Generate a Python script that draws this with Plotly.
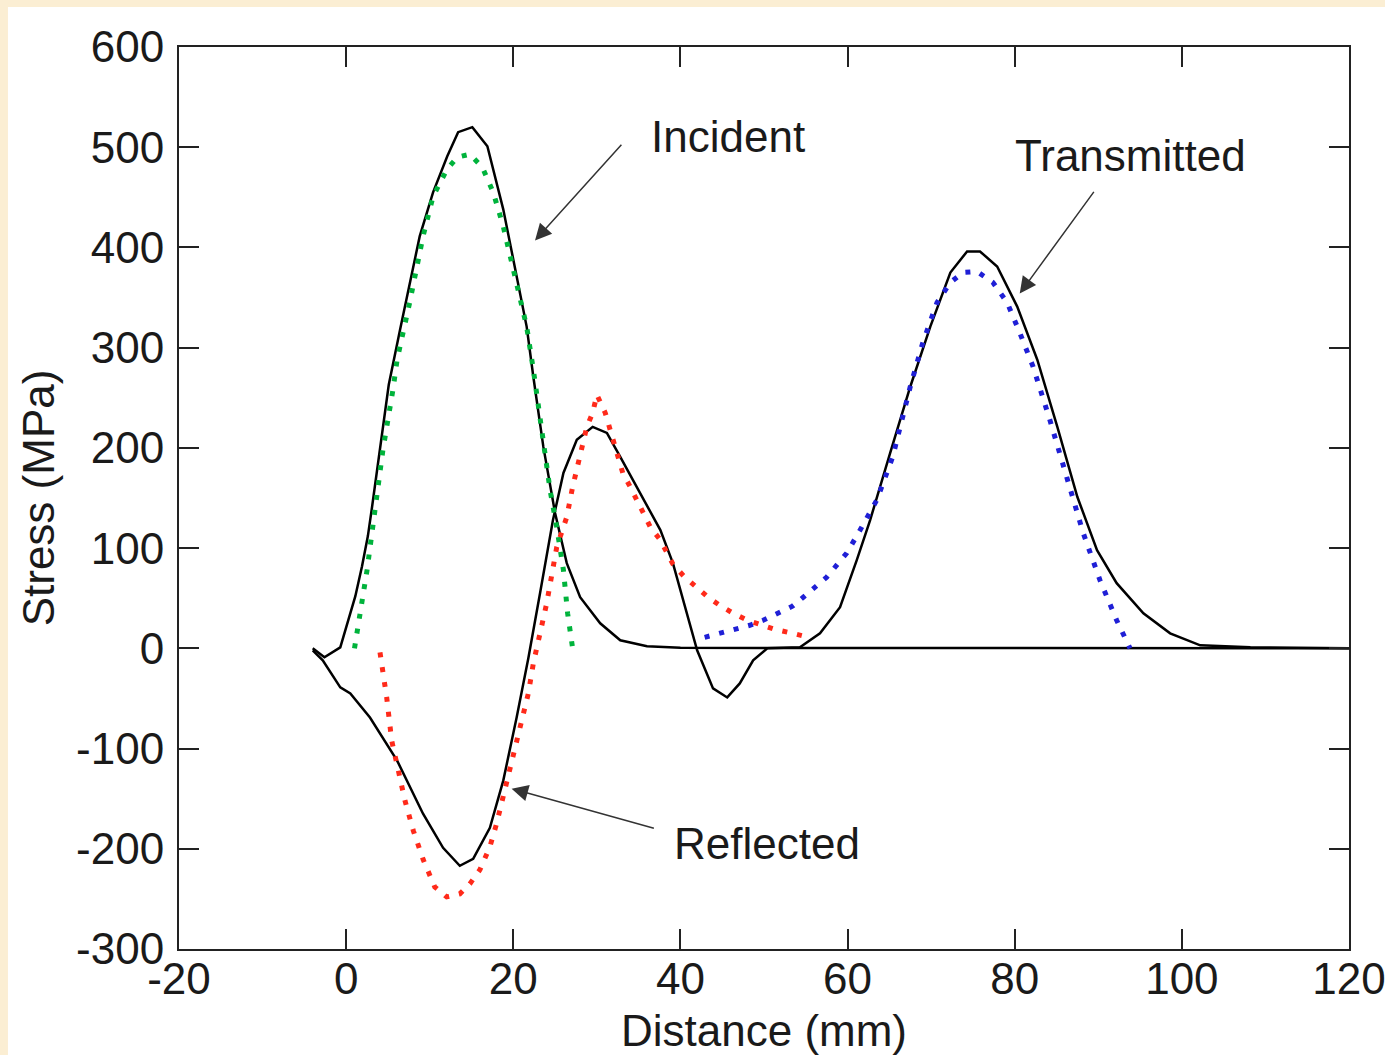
import plotly.graph_objects as go

# ---------------- data ----------------
incident_x = [-4, -2.6, -0.7, 0.4, 1.1, 1.9, 2.6, 3.1, 4.05, 5.1, 6.45, 7.6, 8.8, 10.4, 12.1, 13.4,
              15.1, 16.9, 17.6, 18.8, 20.0, 21.6, 22.4, 23.6, 25.0, 26.4, 28.0, 30.4, 32.8, 36.0, 40.0, 120]
incident_y = [0, -9, 1, 33, 52, 82, 112, 141, 201, 263, 318, 365, 411, 455, 491, 515,
              520, 501, 478, 438, 388, 321, 271, 201, 135, 85, 51, 25, 8, 2, 0.5, 0]

reflected_x = [-4, -2.8, -0.7, 0.5, 2.85, 6.1, 9.2, 11.6, 13.6, 15.2, 17.2, 18.8, 20.4, 21.8, 23.2,
               24.75, 26.0, 27.6, 29.5, 31.2, 32.8, 35.2, 37.6, 39.1, 40.8, 42.0, 43.9, 45.6, 47.1,
               48.7, 50.4, 54.3, 56.7, 59.1, 61.1, 62.7, 65.1, 67.5, 69.9, 72.3, 74.3, 75.85, 77.9,
               80.3, 82.7, 85.1, 87.5, 89.85, 92.2, 95.4, 98.6, 102.2, 108.2, 120]
reflected_y = [-2, -12, -39, -45, -69, -112, -165, -199, -217, -210, -179, -132, -69, -10, 55,
               128, 175, 208, 221, 215, 191, 155, 118, 85, 35, -2, -40, -49, -35,
               -12, 0, 1, 15, 41, 88, 128, 195, 261, 321, 375, 396, 396, 381,
               341, 288, 221, 151, 98, 65, 35, 15, 3, 1, 0]

incident_fit_x = [1.0, 1.66, 2.5, 3.45, 4.4, 5.6, 6.1, 7.6, 9.2, 10.4, 12.07, 13.3, 14.8, 16.3,
                  17.6, 18.8, 20.0, 21.6, 22.4, 23.6, 24.4, 25.2, 26.0, 26.5, 27.1]
incident_fit_y = [0, 33, 78, 138, 198, 258, 288, 345, 411, 451, 478, 490, 493, 480,
                  455, 421, 378, 321, 278, 201, 158, 121, 78, 35, 0]

reflected_fit_x = [4.05, 4.85, 5.45, 6.25, 7.04, 8.04, 9.23, 10.6, 12.03, 13.6, 14.8, 16.0, 17.2,
                   18.0, 18.8, 19.6, 20.4, 21.0, 21.8, 22.4, 23.2, 24.0, 25.2, 26.4, 27.1, 28.0,
                   28.8, 29.5, 30.0, 31.0, 31.6, 32.4, 33.1, 34.0, 34.8, 35.5, 36.4, 37.6, 39.1,
                   40.4, 42.0, 43.3, 44.7, 46.3, 48.0, 49.8, 51.3, 53.4, 55.3]
reflected_fit_y = [-4, -49, -92, -123, -152, -182, -211, -238, -248, -245, -235, -221, -198,
                   -175, -148, -122, -92, -75, -45, -15, 15, 45, 101, 131, 161, 191,
                   221, 235, 253, 235, 218, 191, 175, 161, 148, 135, 121, 108, 84,
                   72, 61, 51, 43, 35, 28, 23, 19, 15, 11]

transmitted_fit_x = [42.9, 44.7, 46.8, 48.3, 49.9, 51.6, 53.4, 54.7, 56.1, 57.5, 58.7, 59.9, 61.5,
                     62.7, 63.5, 64.7, 65.4, 67.5, 69.0, 70.7, 72.3, 73.8, 75.5, 77.4, 79.1, 80.6,
                     82.2, 84.2, 86.3, 88.2, 90.2, 92.2, 93.8]
transmitted_fit_y = [11, 15, 19, 23, 28, 35, 42, 51, 61, 71, 83, 95, 118,
                     136, 148, 175, 191, 261, 305, 345, 365, 375, 376, 365, 345, 315,
                     281, 228, 168, 115, 68, 28, 0]

x_ticks = [-20, 0, 20, 40, 60, 80, 100, 120]
y_ticks = [-300, -200, -100, 0, 100, 200, 300, 400, 500, 600]

labels = ["Incident", "Transmitted", "Reflected"]
label_x = [45.7, 93.8, 50.4]
label_y = [511, 492, -195]
arrow_tail_x = [33.1, 89.6, 37.0]
arrow_tail_y = [504, 457, -180]
arrow_head_x = [22.6, 80.6, 19.8]
arrow_head_y = [407, 354, -140]

# ---------------- figure ----------------
FONT = "Liberation Sans, Arial, Helvetica, sans-serif"
DOT = "5px,10px"
TXT = "#1a1a1a"

fig = go.Figure()
fig.add_trace(go.Scatter(x=incident_x, y=incident_y, mode="lines",
                         line=dict(color="black", width=2.5), name="Incident (measured)"))
fig.add_trace(go.Scatter(x=reflected_x, y=reflected_y, mode="lines",
                         line=dict(color="black", width=2.5), name="Reflected/Transmitted (measured)"))
fig.add_trace(go.Scatter(x=incident_fit_x, y=incident_fit_y, mode="lines",
                         line=dict(color="#00b33c", width=5, dash=DOT), name="Incident"))
fig.add_trace(go.Scatter(x=reflected_fit_x, y=reflected_fit_y, mode="lines",
                         line=dict(color="#ff2a1a", width=5, dash=DOT), name="Reflected"))
fig.add_trace(go.Scatter(x=transmitted_fit_x, y=transmitted_fit_y, mode="lines",
                         line=dict(color="#1f1fd6", width=5, dash=DOT), name="Transmitted"))

annotations = []
for t, tx, ty in zip(labels, label_x, label_y):
    annotations.append(dict(x=tx, y=ty, xref="x", yref="y", text=t, showarrow=False,
                            font=dict(family=FONT, size=44, color=TXT)))
for ax_, ay_, hx, hy in zip(arrow_tail_x, arrow_tail_y, arrow_head_x, arrow_head_y):
    annotations.append(dict(x=hx, y=hy, ax=ax_, ay=ay_, xref="x", yref="y", axref="x", ayref="y",
                            text="", showarrow=True, arrowhead=2, arrowsize=2.2, arrowwidth=1.5,
                            arrowcolor="#333333", standoff=0, startstandoff=0))

fig.update_layout(
    width=1385, height=1055,
    margin=dict(l=179, r=36, t=47, b=106),
    paper_bgcolor="#fbeed3",
    plot_bgcolor="white",
    showlegend=False,
    font=dict(family=FONT, size=44, color=TXT),
    annotations=annotations,
    shapes=[dict(type="rect", xref="paper", yref="paper",
                 x0=-0.1462, x1=1.05, y0=-0.2, y1=1.0443,
                 fillcolor="white", line=dict(width=0), layer="below")],
)
fig.update_xaxes(range=[-20, 120], tickvals=x_ticks, ticktext=[str(v) for v in x_ticks],
                 showgrid=False, zeroline=False, showline=True, linecolor="#222", linewidth=2,
                 mirror="ticks", ticks="inside", ticklen=20, tickwidth=2, tickcolor="#222",
                 automargin="left", ticklabeloverflow="allow", ticklabelstandoff=-10,
                 tickfont=dict(family=FONT, size=44, color=TXT),
                 title=dict(text="Distance (mm)", standoff=14,
                            font=dict(family=FONT, size=44, color=TXT)))
fig.update_yaxes(range=[-300, 600], tickvals=y_ticks, ticktext=[str(v) for v in y_ticks],
                 showgrid=False, zeroline=False, showline=True, linecolor="#222", linewidth=2,
                 mirror="ticks", ticks="inside", ticklen=20, tickwidth=2, tickcolor="#222",
                 ticklabelstandoff=4, automargin=False, ticklabeloverflow="allow",
                 tickfont=dict(family=FONT, size=44, color=TXT),
                 title=dict(text="Stress (MPa)", standoff=8,
                            font=dict(family=FONT, size=44, color=TXT)))

fig.write_html("out.html")
